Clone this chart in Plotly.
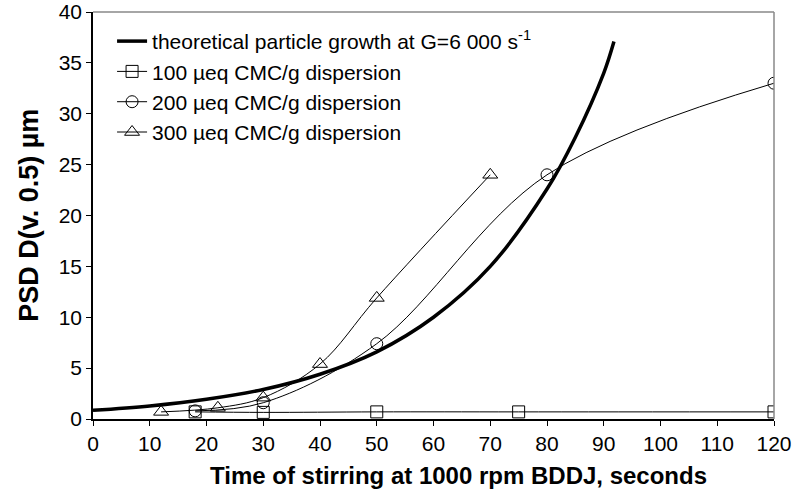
import plotly.graph_objects as go

# Theoretical particle growth curve
theo_x = [0, 10, 20, 30, 40, 50, 60, 70, 80, 85, 90, 91.8]
theo_y = [0.85, 1.28, 1.94, 2.9, 4.4, 6.6, 10.0, 15.0, 22.6, 27.7, 34.0, 37.1]

# 100 ueq CMC/g dispersion
s100_x = [18, 30, 50, 75, 120]
s100_y = [0.7, 0.65, 0.7, 0.7, 0.7]

# 200 ueq CMC/g dispersion
s200_x = [18, 30, 50, 80, 120]
s200_y = [0.8, 1.6, 7.4, 24.0, 33.0]

# 300 ueq CMC/g dispersion
s300_x = [12, 22, 30, 40, 50, 70]
s300_y = [0.7, 1.1, 2.1, 5.4, 11.9, 24.0]

x_ticks = list(range(0, 121, 10))
y_ticks = list(range(0, 41, 5))

x_title = "<b>Time of stirring at 1000 rpm BDDJ, seconds</b>"
y_title = "<b>PSD D(v. 0.5) µm</b>"

FONT = "Arial, Liberation Sans, sans-serif"

fig = go.Figure()
fig.add_trace(go.Scatter(
    x=theo_x, y=theo_y, mode="lines",
    line=dict(color="black", width=3.5, shape="spline"),
    name="theoretical particle growth at G=6 000 s<sup>-1</sup>"))
fig.add_trace(go.Scatter(
    x=s100_x, y=s100_y, mode="lines+markers",
    line=dict(color="black", width=1, shape="spline"),
    marker=dict(symbol="square-open", size=12, color="black", line=dict(width=1)),
    name="100 µeq CMC/g dispersion"))
fig.add_trace(go.Scatter(
    x=s200_x, y=s200_y, mode="lines+markers",
    line=dict(color="black", width=1, shape="spline"),
    marker=dict(symbol="circle-open", size=12, color="black", line=dict(width=1)),
    name="200 µeq CMC/g dispersion"))
fig.add_trace(go.Scatter(
    x=s300_x, y=s300_y, mode="lines+markers",
    line=dict(color="black", width=1, shape="spline"),
    marker=dict(symbol="triangle-up-open", size=13, color="black", line=dict(width=1)),
    name="300 µeq CMC/g dispersion"))

# gray top / right frame
fig.add_shape(type="line", xref="paper", yref="paper", x0=0, y0=1, x1=1, y1=1,
              line=dict(color="#888888", width=1.5))
fig.add_shape(type="line", xref="paper", yref="paper", x0=1, y0=0, x1=1, y1=1,
              line=dict(color="#888888", width=1.5))

# axis titles as annotations (pixel-placed)
fig.add_annotation(text=x_title, xref="paper", yref="paper", x=0.536, y=-0.14,
                   xanchor="center", yanchor="middle", showarrow=False,
                   font=dict(size=24, family=FONT, color="black"))
fig.add_annotation(text=y_title, xref="paper", yref="paper", x=-0.095, y=0.5,
                   xanchor="center", yanchor="middle", showarrow=False, textangle=-90,
                   font=dict(size=27, family=FONT, color="black"))

fig.update_layout(
    width=796, height=499,
    margin=dict(l=93, r=22, t=12, b=80, autoexpand=False),
    paper_bgcolor="white", plot_bgcolor="white",
    font=dict(family=FONT, color="black", size=21),
    showlegend=True,
    legend=dict(x=0.028, y=0.978, xanchor="left", yanchor="top",
                bgcolor="rgba(0,0,0,0)", font=dict(size=21, family=FONT),
                tracegroupgap=0, itemwidth=30),
    xaxis=dict(range=[0, 120], tickvals=x_ticks, ticks="outside", ticklen=5,
               tickcolor="black", showline=True, linecolor="black", linewidth=1.5,
               showgrid=False, zeroline=False, tickfont=dict(size=21), automargin=False),
    yaxis=dict(range=[0, 40], tickvals=y_ticks, ticks="outside", ticklen=5,
               tickcolor="black", showline=True, linecolor="black", linewidth=1.5,
               showgrid=False, zeroline=False, tickfont=dict(size=21), automargin=False),
)

fig.write_html("out.html")
